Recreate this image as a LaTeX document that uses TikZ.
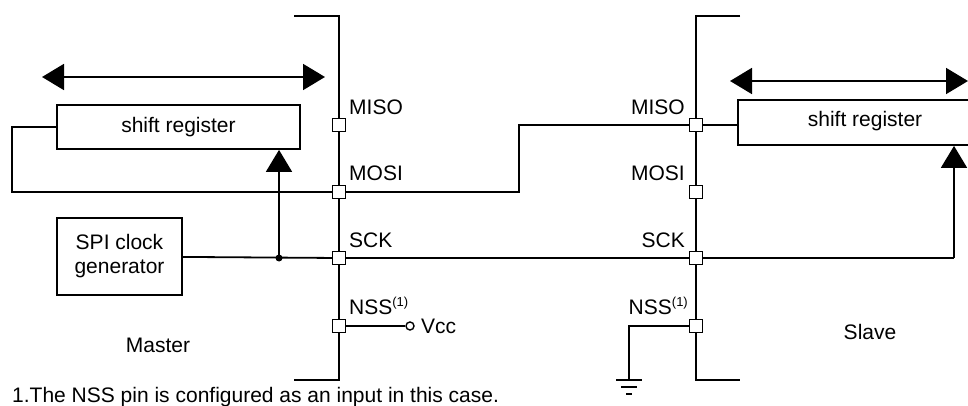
\documentclass[tikz,border=0pt]{standalone}
\usepackage{fontspec}
\setmainfont{Liberation Sans}
\usetikzlibrary{arrows.meta,positioning}
\tikzset{
  wire/.style={line width=1.8pt},
  pin/.style={draw,line width=1.4pt,fill=white,minimum size=13pt,inner sep=0pt},
  block/.style={draw,line width=1.8pt,inner sep=0pt},
  bigarrow/.style={wire,-{Triangle[length=22pt,width=26pt]}},
  dblarrow/.style={wire,{Triangle[length=22pt,width=26pt]}-{Triangle[length=22pt,width=26pt]}},
  lbl/.style={font=\fontsize{21}{24}\selectfont,inner sep=0pt}
}
\newcommand{\nssnote}{NSS\raisebox{8pt}{\fontsize{13}{13}\selectfont(1)}}
\begin{document}
\begin{tikzpicture}[x=1pt,y=-1pt]
\useasboundingbox (0,0) rectangle (968,406);
\clip (0,0) rectangle (968,406);
% buses
\draw [wire] (294,16) -- (339,16) -- (339,380) -- (294,380);
\draw [wire] (740,16) -- (696,16) -- (696,380) -- (740,380);
% master side
\node [block,minimum width=243pt,minimum height=44pt] (msr) at (178.5,127) {};
\node [lbl] at (msr) {shift register};
\node [block,minimum width=125pt,minimum height=77pt,align=center,lbl] (clk) at (119.5,256.5) {SPI clock\\generator};
\coordinate (mal) at (42,77);
\coordinate (mar) at (325,77);
\draw [dblarrow] (mal) -- (mar);
\node [pin] (mmiso) at (339,125) {};
\node [pin] (mmosi) at (339,192) {};
\node [pin] (msck) at (339,258) {};
\node [pin] (mnss) at (339,326) {};
\node [lbl,anchor=base west] at (349,115) {MISO};
\node [lbl,anchor=base west] at (349,181) {MOSI};
\node [lbl,anchor=base west] at (349,247) {SCK};
\node [lbl,anchor=base west] at (349,314) {\nssnote};
\coordinate (fb) at (12,192);
\draw [wire] (msr.west) -| (fb) -- (mmosi);
\coordinate (dot) at (279,258);
\draw [wire] (clk) -- (msck);
\fill (dot) circle (3.5pt);
\draw [bigarrow] (dot) -- (dot |- msr.south);
\node [draw,circle,line width=1.4pt,minimum size=8pt,inner sep=0pt] (vcc) at (410,326) {};
\draw [wire] (mnss) -- (vcc);
\node [lbl,anchor=base west] at (421,333) {Vcc};
\node [lbl,anchor=base] at (158,352) {Master};
% slave side
\node [block,minimum width=260pt,minimum height=45pt,anchor=west] (ssr) at (737,122.5) {};
\node [lbl] at (865,121) {shift register};
\coordinate (sal) at (730,81);
\coordinate (sar) at (968,81);
\draw [dblarrow] (sal) -- (sar);
\node [pin] (smiso) at (696,125) {};
\node [pin] (smosi) at (696,192) {};
\node [pin] (ssck) at (696,258) {};
\node [pin] (snss) at (696,326) {};
\node [lbl,anchor=base east] at (685,115) {MISO};
\node [lbl,anchor=base east] at (685,181) {MOSI};
\node [lbl,anchor=base east] at (685,247) {SCK};
\node [lbl,anchor=base east] at (688,314) {\nssnote};
\node [lbl,anchor=base] at (870,339) {Slave};
% connections
\coordinate (step) at (519,192);
\draw [wire] (mmosi) -- (step) |- (smiso);
\draw [wire] (smiso) -- (ssr.west |- smiso);
\draw [wire] (msck) -- (ssck);
\coordinate (sclk) at (954,258);
\draw [wire] (ssck) -- (sclk);
\draw [bigarrow] (sclk) -- (sclk |- ssr.south);
\coordinate (gnd) at (629,380);
\draw [wire] (snss) -| (gnd);
\draw [wire] (616,380) -- (642,380);
\draw [wire] (621,387) -- (637,387);
\draw [wire] (626,394) -- (632,394);
% footnote
\node [lbl,anchor=base west] at (12,402) {1.The NSS pin is configured as an input in this case.};
\end{tikzpicture}
\end{document}
